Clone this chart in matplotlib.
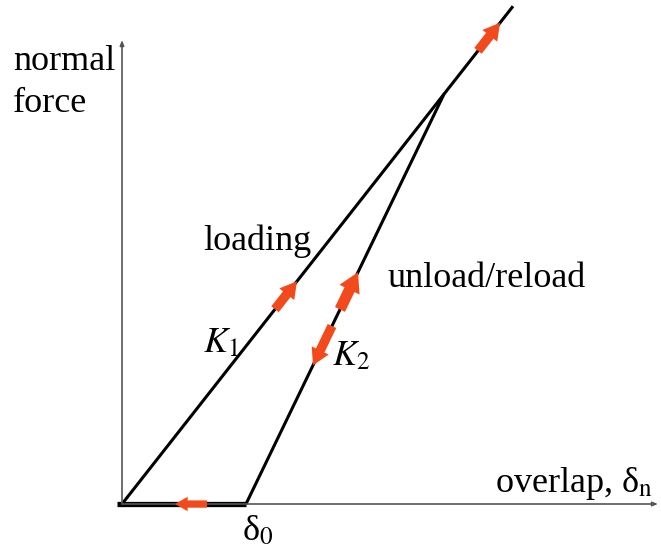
import matplotlib
matplotlib.use("Agg")
import matplotlib.pyplot as plt
from matplotlib.patches import FancyArrowPatch

plt.rcParams['font.family'] = ['Liberation Serif', 'DejaVu Serif']
plt.rcParams['mathtext.fontset'] = 'stix'

# contact model parameters
K1 = 1.273        # loading stiffness
K2 = 2.07         # unload/reload stiffness
delta0 = 1.24     # residual overlap
x_load_end = 3.91 # end of the loading branch
x_axis_end = 5.36
y_axis_end = 4.64

# red direction arrows: (branch, x start, x end, size)
arrows = [
    ("K1", 1.53, 1.75, 17),
    ("K1", 3.56, 3.78, 17),
    ("K2", 2.18, 2.36, 20),
    ("K2", 2.10, 1.91, 17),
    ("zero", 0.85, 0.53, 13),
]

def branch_y(branch, x):
    if branch == "K1":
        return K1 * x
    if branch == "K2":
        return K2 * (x - delta0)
    return 0.0

fig = plt.figure(figsize=(6.61, 5.59), dpi=100)
ax = fig.add_axes([0, 0, 1, 1])
ax.set_xlim(-1.22, 5.39)
ax.set_ylim(-0.55, 5.04)
ax.axis('off')

# axes of the diagram
ax.annotate('', xy=(x_axis_end, 0), xytext=(0, 0),
            arrowprops=dict(arrowstyle='-|>,head_width=0.12,head_length=0.3',
                            color='#555555', lw=1.2, shrinkA=0, shrinkB=0))
ax.annotate('', xy=(0, y_axis_end), xytext=(0, 0),
            arrowprops=dict(arrowstyle='-|>,head_width=0.12,head_length=0.3',
                            color='#555555', lw=1.2, shrinkA=0, shrinkB=0))

# loading branch and unload/reload branch
x_int = K2 * delta0 / (K2 - K1)
ax.plot([0, x_load_end], [0, K1 * x_load_end], color='black', lw=2.2,
        solid_capstyle='butt')
ax.plot([delta0, x_int], [0, K1 * x_int], color='black', lw=2.2,
        solid_capstyle='butt')
# zero-force segment
ax.plot([-0.05, delta0], [0, 0], color='black', lw=3.8, solid_capstyle='butt')

for branch, xa, xb, size in arrows:
    p = FancyArrowPatch((xa, branch_y(branch, xa)), (xb, branch_y(branch, xb)),
                        arrowstyle='simple,head_width=0.8,head_length=0.7,tail_width=0.4',
                        mutation_scale=size, color='#f24a1d', lw=0, zorder=5,
                        shrinkA=0, shrinkB=0)
    ax.add_patch(p)

fs = 26
ax.text(-1.09, 4.34, 'normal', fontsize=fs, va='baseline', ha='left')
ax.text(-1.09, 3.92, 'force', fontsize=fs, va='baseline', ha='left')
ax.text(0.81, 2.54, 'loading', fontsize=fs, va='baseline', ha='left')
ax.text(2.65, 2.17, 'unload/reload', fontsize=fs, va='baseline', ha='left')
ax.text(0.81, 1.52, r'$K_1$', fontsize=fs, va='baseline', ha='left')
ax.text(2.10, 1.39, r'$K_2$', fontsize=fs, va='baseline', ha='left')
ax.text(1.20, -0.36, r'δ$_0$', fontsize=fs, va='baseline', ha='left')
ax.text(3.73, 0.12, r'overlap, δ$_\mathrm{n}$', fontsize=fs, va='baseline', ha='left')

fig.savefig('out.png', dpi=100)
